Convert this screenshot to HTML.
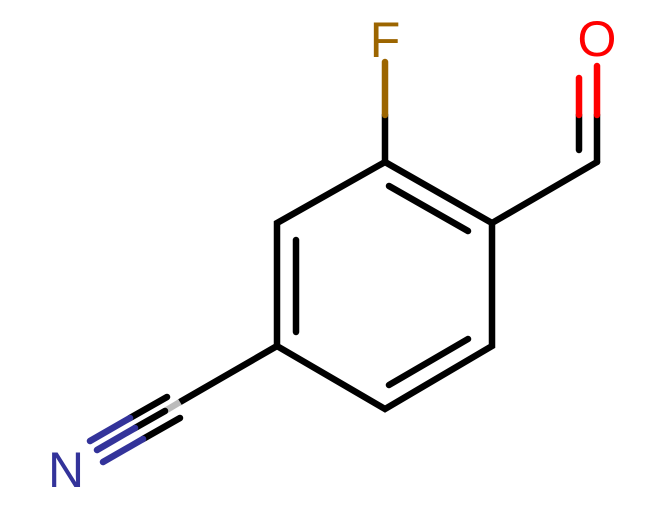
<!DOCTYPE html>
<html><head><style>html,body{margin:0;padding:0;background:#fff;width:663px;height:510px;overflow:hidden}</style></head>
<body>
<svg width="663" height="510" viewBox="0 0 663 510" xmlns="http://www.w3.org/2000/svg">
<g stroke="#000" stroke-width="6.5" stroke-linecap="round" fill="none">
<polyline points="385,162 277,223 277,346 385,409 492,346 492,223 385,162"/>
<line x1="296" y1="240" x2="296" y2="332"/>
<line x1="389" y1="186" x2="468" y2="231"/>
<line x1="389" y1="385" x2="468" y2="339"/>
<line x1="492" y1="223" x2="597" y2="162"/>
<line x1="385" y1="162" x2="385" y2="115"/>
<line x1="385" y1="115" x2="385" y2="62" stroke="#9c6500"/>
<line x1="597" y1="162" x2="597" y2="115"/>
<line x1="597" y1="115" x2="597" y2="66" stroke="#f00"/>
<line x1="579" y1="150" x2="579" y2="115"/>
<line x1="579" y1="115" x2="579" y2="78" stroke="#f00"/>
<line x1="277" y1="346" x2="180" y2="402"/>
<line x1="180" y1="402" x2="165" y2="411" stroke="#bbb" stroke-linecap="butt"/>
<line x1="165" y1="411" x2="135" y2="428"/>
<line x1="135" y1="428" x2="97" y2="450" stroke="#33339a"/>
<line x1="167" y1="397" x2="130" y2="418"/>
<line x1="130" y1="418" x2="90" y2="441" stroke="#33339a"/>
<line x1="180" y1="418" x2="143" y2="439"/>
<line x1="143" y1="439" x2="103" y2="462" stroke="#33339a"/>
</g>
<g font-family="Liberation Sans, sans-serif" font-size="50" text-anchor="middle">
<text x="385" y="57" fill="#9c6500">F</text>
<text x="597" y="56" fill="#f00">O</text>
<text x="66" y="487" fill="#33339a">N</text>
</g>
</svg>
</body></html>
